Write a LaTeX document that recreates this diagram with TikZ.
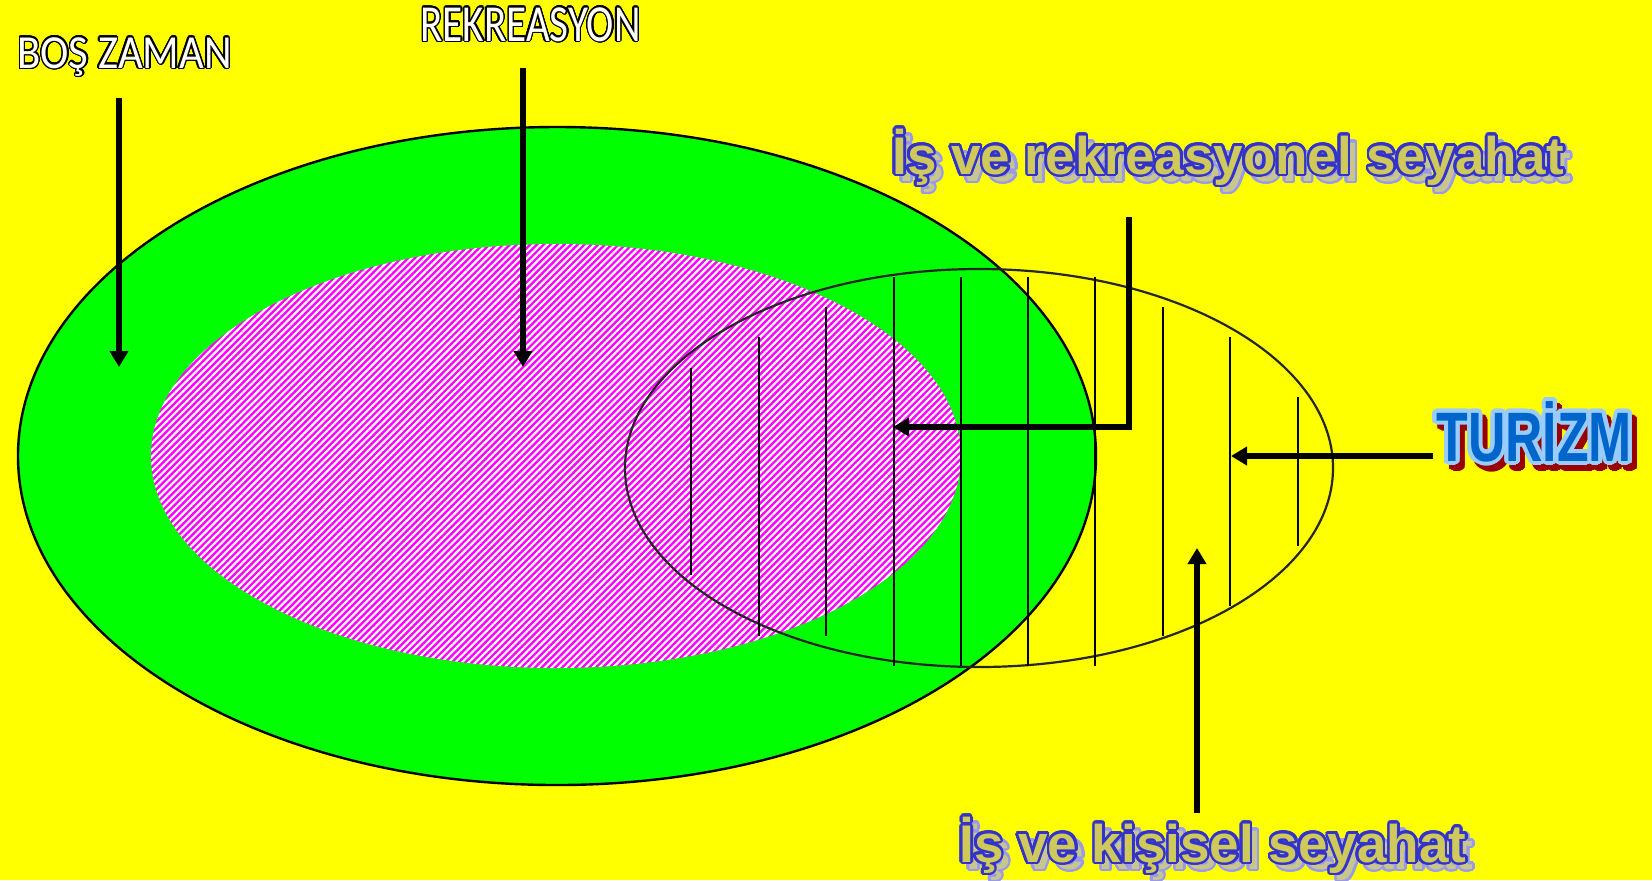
\documentclass[tikz,border=0pt]{standalone}
\usepackage{fontspec}
\usepackage{contour}
\usetikzlibrary{shapes.geometric,arrows.meta,patterns.meta}
\newfontfamily\calfont{Carlito}
\newfontfamily\arialfont{Liberation Sans}
\definecolor{bgyellow}{RGB}{255,255,0}
\definecolor{setgreen}{RGB}{0,255,0}
\definecolor{setpink}{RGB}{255,0,255}
\definecolor{artfill}{RGB}{207,201,92}
\definecolor{artline}{RGB}{51,51,204}
\definecolor{shadefill}{RGB}{200,198,140}
\definecolor{shadeline}{RGB}{153,153,238}
\definecolor{turfill}{RGB}{0,102,204}
\definecolor{turline}{RGB}{153,204,255}
\definecolor{turshade}{RGB}{153,0,0}
\contournumber{24}

\begin{document}
\begin{tikzpicture}[x=0.5pt,y=-0.5pt,
    sets/.style={ellipse, inner sep=0pt},
    pointer/.style={line width=2.8pt, -{Triangle[width=9pt,length=8pt]}},
    label/.style={anchor=base west, inner sep=0pt}]
   \fill[bgyellow] (0,0) rectangle (1652,880);
   \useasboundingbox (0,0) rectangle (1652,880);

   \node [sets, draw, line width=1.2pt, fill=setgreen, minimum width=539pt, minimum height=329pt] (bos) at (557,456) {};
   \node [sets, preaction={fill=setpink}, pattern={Lines[angle=45,distance=2.4pt,line width=1.1pt]}, pattern color=white,
          minimum width=405pt, minimum height=212pt] (rek) at (556,456) {};
   \node [sets, draw=black!85, line width=1.1pt, minimum width=354pt, minimum height=199pt] (tur) at (979,468) {};

   \foreach \x/\t/\b in {691/368/575, 759/337/636, 826/307/636, 894/277/666, 961/277/666,
                         1028/277/666, 1095/277/666, 1163/307/636, 1230/337/606, 1298/397/546}
      \draw[line width=1pt] (\x,\t) -- (\x,\b);

   \coordinate (bos-from) at (119,98);   \coordinate (bos-to) at (119,367);
   \coordinate (rek-from) at (523,68);   \coordinate (rek-to) at (523,367);
   \coordinate (rs-from) at (1129,217);  \coordinate (rs-to) at (893,427);
   \coordinate (tur-from) at (1433,456); \coordinate (tur-to) at (1231,456);
   \coordinate (ks-from) at (1197,813);  \coordinate (ks-to) at (1197,548);

   \draw[pointer] (bos-from) -- (bos-to);
   \draw[pointer] (rek-from) -- (rek-to);
   \draw[pointer, line join=miter] (rs-from) |- (rs-to);
   \draw[pointer] (tur-from) -- (tur-to);
   \draw[pointer] (ks-from) -- (ks-to);

   % labels
   \node [label] (boslabel) at (17,68)
      {\calfont\fontsize{23.75}{26}\selectfont\color{white}\contourlength{0.7pt}\contour{black}{\scalebox{0.9}[1]{BOŞ ZAMAN}}};
   \node [label] (reklabel) at (420,41)
      {\calfont\fontsize{26}{28}\selectfont\color{white}\contourlength{0.7pt}\contour{black}{\scalebox{0.79}[1]{REKREASYON}}};

   \node [label] (rsshade) at (899,181)
      {\arialfont\bfseries\fontsize{26.5}{28}\selectfont\color{shadefill}\contourlength{1.3pt}\contour{shadeline}{İş ve rekreasyonel seyahat}};
   \node [label] (rslabel) at (892,174)
      {\arialfont\bfseries\fontsize{26.5}{28}\selectfont\color{artfill}\contourlength{1.3pt}\contour{artline}{İş ve rekreasyonel seyahat}};

   \node [label] (ksshade) at (966,869)
      {\arialfont\bfseries\fontsize{26.5}{28}\selectfont\color{shadefill}\contourlength{1.3pt}\contour{shadeline}{İş ve kişisel seyahat}};
   \node [label] (kslabel) at (959,862)
      {\arialfont\bfseries\fontsize{26.5}{28}\selectfont\color{artfill}\contourlength{1.3pt}\contour{artline}{İş ve kişisel seyahat}};

   \node [label] (turshadow) at (1441,467)
      {\arialfont\bfseries\fontsize{35}{38}\selectfont\color{turshade}\contourlength{2pt}\contour{turshade}{\scalebox{0.74}[1]{TURİZM}}};
   \node [label] (turlabel) at (1436,461)
      {\arialfont\bfseries\fontsize{35}{38}\selectfont\color{turfill}\contourlength{2pt}\contour{turline}{\scalebox{0.74}[1]{TURİZM}}};
\end{tikzpicture}
\end{document}
